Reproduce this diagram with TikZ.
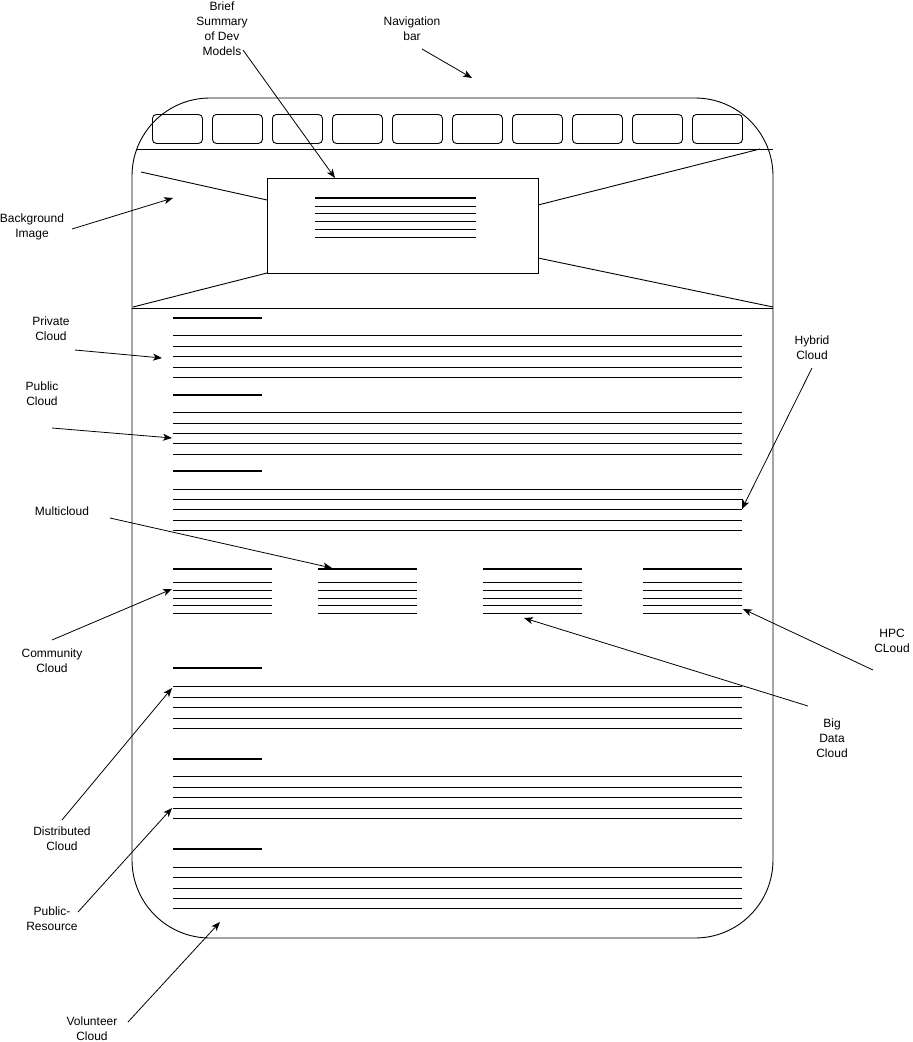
\documentclass[tikz,border=0pt]{standalone}
\usepackage{fontspec}
\setmainfont{Liberation Sans}
\usetikzlibrary{arrows.meta}
\begin{document}
\begin{tikzpicture}[x=1pt,y=-1pt,
  lbl/.style={align=center, font=\fontsize{12}{15}\selectfont, inner sep=0pt},
  arr/.style={-{Stealth[length=9pt,width=7pt,inset=2.5pt]}, line width=0.8pt},
  rule/.style={line width=0.9pt},
  head/.style={line width=1.8pt},
  btn/.style={draw, rounded corners=4pt, line width=0.9pt, minimum width=50pt, minimum height=29pt, anchor=north west, inner sep=0pt}]
\useasboundingbox (0,0) rectangle (913,1042);
% page frame
\draw[line width=0.9pt, rounded corners=78pt] (132,98) rectangle (773,938);
% navigation buttons
\foreach \i in {0,...,9} \node[btn] (b\i) at ({152+60*\i},114) {};
\draw[rule] (136,149) -- (773,149);
% background image cross
\node[draw, line width=0.9pt, minimum width=271pt, minimum height=95pt, anchor=north west, inner sep=0pt] (summary) at (267,178) {};
\coordinate (bgA) at (141,172);
\coordinate (bgB) at (760,149);
\coordinate (bgC) at (133,307);
\coordinate (bgD) at (773,307);
\draw[rule] (bgA) -- (267,200);
\draw[rule] (538,205) -- (bgB);
\draw[rule] (267,273) -- (bgC);
\draw[rule] (538,258) -- (bgD);
\draw[rule] (132,308) -- (773,308);
% summary text lines
\draw[head] (315,198) -- (476,198);
\foreach \y in {206,213,221,229,237} \draw[rule] (315,\y) -- (476,\y);
% full-width sections
\draw[head] (173,318) -- (262,318);
\foreach \y in {335,346,356,367,377} \draw[rule] (173,\y) -- (742,\y);
\draw[head] (173,395) -- (262,395);
\foreach \y in {412,423,433,443,454} \draw[rule] (173,\y) -- (742,\y);
\draw[head] (173,471) -- (262,471);
\foreach \y in {489,499,509,520,530} \draw[rule] (173,\y) -- (742,\y);
\draw[rule] (742,499) -- (742,509);
% four columns
\foreach \xa/\xb in {173/272,318/417,483/582,643/742} {
  \draw[head] (\xa,569) -- (\xb,569);
  \foreach \y in {582,590,598,605,613} \draw[rule] (\xa,\y) -- (\xb,\y);
}
% lower sections
\draw[head] (173,668) -- (262,668);
\foreach \y in {686,697,707,718,728} \draw[rule] (173,\y) -- (742,\y);
\draw[head] (173,759) -- (262,759);
\foreach \y in {776,787,797,808,818} \draw[rule] (173,\y) -- (742,\y);
\draw[head] (173,849) -- (262,849);
\foreach \y in {867,877,888,898,908} \draw[rule] (173,\y) -- (742,\y);
% labels
\node[lbl] (lBrief) at (222,29) {Brief\\Summary\\of Dev\\Models};
\node[lbl] (lNav) at (412,29) {Navigation\\bar};
\node[lbl] (lBg) at (32,227) {Background\\Image};
\node[lbl] (lPriv) at (51,329) {Private\\Cloud};
\node[lbl] (lPub) at (42,394) {Public\\Cloud};
\node[lbl] (lHyb) at (812,348) {Hybrid\\Cloud};
\node[lbl] (lMulti) at (62,511) {Multicloud};
\node[lbl] (lComm) at (52,661) {Community\\Cloud};
\node[lbl] (lHPC) at (892,641) {HPC\\CLoud};
\node[lbl] (lBig) at (832,738) {Big\\Data\\Cloud};
\node[lbl] (lDist) at (62,839) {Distributed\\Cloud};
\node[lbl] (lPR) at (52,919) {Public-\\Resource};
\node[lbl] (lVol) at (92,1029) {Volunteer\\Cloud};
% arrow coordinates
\coordinate (sBrief) at (243,50);   \coordinate (eBrief) at (335,178);
\coordinate (sNav) at (422,49);     \coordinate (eNav) at (472,78);
\coordinate (sBg) at (72,229);      \coordinate (eBg) at (173,198);
\coordinate (sPriv) at (75,350);    \coordinate (ePriv) at (162,358);
\coordinate (sPub) at (52,428);     \coordinate (ePub) at (172,438);
\coordinate (sHyb) at (812,368);    \coordinate (eHyb) at (742,509);
\coordinate (sMulti) at (110,518);  \coordinate (eMulti) at (332,568);
\coordinate (sComm) at (52,640);    \coordinate (eComm) at (172,589);
\coordinate (sHPC) at (873,670);    \coordinate (eHPC) at (743,609);
\coordinate (sBig) at (808,706);    \coordinate (eBig) at (524,618);
\coordinate (sDist) at (62,820);    \coordinate (eDist) at (172,688);
\coordinate (sPR) at (78,912);      \coordinate (ePR) at (172,808);
\coordinate (sVol) at (128,1022);   \coordinate (eVol) at (220,922);
\foreach \n in {Brief,Nav,Bg,Priv,Pub,Hyb,Multi,Comm,HPC,Big,Dist,PR,Vol}
  \draw[arr] (s\n) -- (e\n);
\end{tikzpicture}
\end{document}
